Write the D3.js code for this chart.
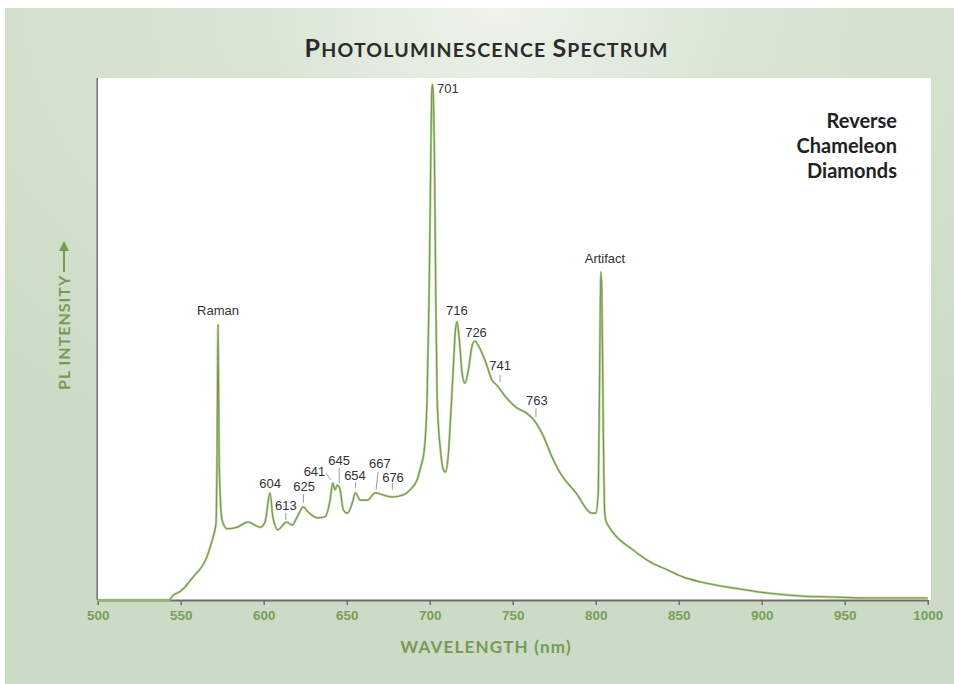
<!DOCTYPE html>
<html>
<head>
<meta charset="utf-8">
<script src="https://cdn.jsdelivr.net/npm/d3@7/dist/d3.min.js"></script>
<style>
  html, body { margin: 0; padding: 0; background: #fff; }
  svg { display: block; }
</style>
</head>
<body>
<svg id="chart" width="954" height="684"></svg>
<script>
// PL spectrum
const wavelength = [500, 543, 545.4, 550, 557.4, 565.8, 569.5, 571.3, 571.9, 572.5,
  573.2, 574.9, 577.9, 584, 590.5, 597.8, 600.8, 603.8, 605.5, 608.6,
  611.6, 613.6, 617.2, 620.2, 623.9, 626.5, 632.2, 637, 640, 641.6,
  643, 644.4, 646, 648, 650.4, 653.4, 655.2, 658.2, 662.4, 667.2,
  672, 677.5, 684, 688.2, 692.4, 694.5, 696.6, 698.4, 699.6, 700.5,
  701.2, 701.6, 702.2, 703, 703.7, 704.5, 706.5, 708.3, 709.5, 711.3,
  712.5, 714.3, 715.5, 716.5, 717.7, 719.5, 721.1, 723.6, 725.4, 727.2,
  729.7, 733.9, 737.5, 740.5, 745.9, 751.9, 758, 762.8, 767.6, 773.7,
  777.9, 788.1, 797.8, 800.2, 801.6, 802.5, 803.1, 803.7, 804.5, 805.4,
  806, 807.8, 810.6, 822.6, 832.9, 843.1, 852.8, 863, 882.9, 903.2,
  923.1, 943, 963.4, 1000];
const intensity = [0, 0, 0.9, 1.7, 4.4, 8.3, 12.1, 14.8, 28, 52.9,
  26, 15.4, 13.7, 14.0, 15.0, 14.0, 15.0, 20.6, 16.0, 13.5,
  14.4, 15.0, 14.4, 16.0, 17.9, 17.0, 15.8, 16.0, 19.2, 22.5,
  21.2, 22.1, 21.2, 17.3, 16.7, 18.7, 20.6, 19.2, 19.2, 20.6,
  20.2, 19.8, 20.2, 21.2, 23.1, 25.5, 28.5, 38.5, 57.7, 80.8,
  97.5, 99.2, 97.1, 80.8, 57.7, 38.5, 28.8, 25.0, 24.6, 28.3,
  34.6, 45.2, 51.9, 53.5, 50.6, 43.7, 41.7, 44.8, 48.7, 49.8,
  48.7, 45.6, 42.3, 41.3, 39.0, 37.1, 36.0, 34.6, 32.1, 27.5,
  24.8, 20.6, 16.7, 16.7, 21.2, 48.1, 63.1, 59.6, 34.6, 17.0,
  15.4, 14.2, 12.9, 9.6, 7.3, 5.8, 4.4, 3.5, 2.3, 1.35,
  0.77, 0.58, 0.38, 0.38];

const xTicks = [500, 550, 600, 650, 700, 750, 800, 850, 900, 950, 1000];

// peak labels: text, wavelength, intensity level of the baseline, anchor
const peakLabels = [
  ["Raman", 572.5, 54.8, "middle"],
  ["604", 603.9, 21.5, "middle"],
  ["613", 613.4, 17.3, "middle"],
  ["625", 624.3, 21.0, "middle"],
  ["641", 630.6, 23.8, "middle"],
  ["645", 645.4, 26.0, "middle"],
  ["654", 655.0, 23.1, "middle"],
  ["667", 670.0, 25.4, "middle"],
  ["676", 677.9, 22.7, "middle"],
  ["701", 704.4, 97.5, "start"],
  ["716", 716.4, 54.8, "middle"],
  ["726", 727.9, 50.6, "middle"],
  ["741", 742.4, 44.2, "middle"],
  ["763", 764.6, 37.5, "middle"],
  ["Artifact", 805.6, 64.8, "middle"]
];
// leader ticks: from [nm, level] to [nm, level]
const leaders = [
  [613.3, 16.8, 613.3, 15.4],
  [623.9, 20.4, 623.9, 18.7],
  [637.5, 24.4, 640.5, 23.1],
  [645.5, 25.4, 645.5, 22.5],
  [655.4, 22.7, 655.4, 21.5],
  [668.9, 24.6, 667.7, 21.2],
  [677.5, 22.5, 677.5, 21.2],
  [742.4, 43.3, 742.4, 41.9],
  [764.0, 36.9, 764.0, 35.2]
];

const legendLines = ["Reverse", "Chameleon", "Diamonds"];

const svg = d3.select("#chart");
const W = 954, H = 684;
const plot = { left: 97.7, right: 927.7, top: 78, bottom: 600 };

const x = d3.scaleLinear().domain([500, 1000]).range([plot.left, plot.right]);
const y = d3.scaleLinear().domain([0, 100]).range([plot.bottom, 80]);

// background
const defs = svg.append("defs");
const grad = defs.append("radialGradient").attr("id", "bg")
  .attr("cx", "52%").attr("cy", "0%").attr("r", "75%")
  .attr("fx", "52%").attr("fy", "0%");
grad.append("stop").attr("offset", "0%").attr("stop-color", "#eef3ec");
grad.append("stop").attr("offset", "35%").attr("stop-color", "#d9e5d4");
grad.append("stop").attr("offset", "100%").attr("stop-color", "#ccdbc5");

svg.append("rect").attr("width", W).attr("height", H).attr("fill", "#fff");
svg.append("rect").attr("x", 5).attr("y", 8).attr("width", W - 5).attr("height", H - 8)
  .attr("fill", "url(#bg)");

// white plot panel
svg.append("rect")
  .attr("x", plot.left).attr("y", plot.top)
  .attr("width", 931 - plot.left).attr("height", plot.bottom - plot.top)
  .attr("fill", "#fff");

// title in small caps
const title = svg.append("text")
  .attr("x", 486).attr("y", 57)
  .attr("text-anchor", "middle")
  .attr("font-family", "Lato, 'Open Sans', sans-serif")
  .attr("font-weight", 700)
  .attr("fill", "#2b2b2b")
  .attr("textLength", 363).attr("lengthAdjust", "spacing");
[["P", 25], ["HOTOLUMINESCENCE ", 19.5], ["S", 25], ["PECTRUM", 19.5]].forEach(([t, s]) => {
  title.append("tspan").attr("font-size", s).text(t);
});

// legend
svg.append("g").selectAll("text")
  .data(legendLines)
  .join("text")
  .attr("x", 897)
  .attr("y", (d, i) => 128 + i * 25)
  .attr("text-anchor", "end")
  .attr("font-family", "Lato, 'Open Sans', sans-serif")
  .attr("font-weight", 700)
  .attr("font-size", 20)
  .attr("fill", "#222")
  .text(d => d);

// y axis line
svg.append("line")
  .attr("x1", plot.left - 0.5).attr("x2", plot.left - 0.5)
  .attr("y1", plot.top).attr("y2", plot.bottom)
  .attr("stroke", "#707370").attr("stroke-width", 1.5);

// x axis
const xAxis = svg.append("g")
  .attr("transform", `translate(0,${plot.bottom})`)
  .call(d3.axisBottom(x).tickValues(xTicks).tickFormat(d3.format("d"))
    .tickSize(5).tickSizeOuter(0).tickPadding(5));
xAxis.select(".domain").attr("stroke", "#6b6e6b").attr("stroke-width", 2);
xAxis.selectAll(".tick line").attr("stroke", "#6b6e6b").attr("stroke-width", 1.5);
xAxis.selectAll(".tick text")
  .attr("font-family", "'Liberation Sans Narrow', 'Arial Narrow', sans-serif")
  .attr("font-weight", 700)
  .attr("font-size", 13.5)
  .attr("fill", "#7c9c5c");

// axis titles
svg.append("text")
  .attr("x", 486).attr("y", 653)
  .attr("text-anchor", "middle")
  .attr("font-family", "Lato, 'Open Sans', sans-serif")
  .attr("font-weight", 700)
  .attr("font-size", 17)
  .attr("letter-spacing", 1.2)
  .attr("fill", "#779a57")
  .text("WAVELENGTH (nm)");

svg.append("text")
  .attr("transform", "translate(70,390) rotate(-90)")
  .attr("font-family", "Lato, 'Open Sans', sans-serif")
  .attr("font-weight", 700)
  .attr("font-size", 16)
  .attr("letter-spacing", 1)
  .attr("fill", "#779a57")
  .text("PL INTENSITY");
// arrow after the y title
svg.append("line")
  .attr("x1", 64).attr("x2", 64).attr("y1", 272).attr("y2", 248)
  .attr("stroke", "#779a57").attr("stroke-width", 2);
svg.append("path")
  .attr("d", "M64,241 L59,251 L69,251 Z")
  .attr("fill", "#779a57");

// spectrum
const pts = wavelength.map((w, i) => [w, intensity[i]]);
const line = d3.line()
  .x(d => x(d[0]))
  .y(d => y(d[1]))
  .curve(d3.curveMonotoneX);

svg.append("path")
  .datum(pts)
  .attr("d", line)
  .attr("fill", "none")
  .attr("stroke", "#b3d68a")
  .attr("stroke-width", 2.4)
  .attr("stroke-linejoin", "round");
svg.append("path")
  .datum(pts)
  .attr("d", line)
  .attr("fill", "none")
  .attr("stroke", "#7f9160")
  .attr("stroke-width", 1.1)
  .attr("stroke-linejoin", "round");

// leaders
svg.append("g").selectAll("line")
  .data(leaders)
  .join("line")
  .attr("x1", d => x(d[0])).attr("y1", d => y(d[1]))
  .attr("x2", d => x(d[2])).attr("y2", d => y(d[3]))
  .attr("stroke", "#999").attr("stroke-width", 1);

// peak labels
svg.append("g").selectAll("text")
  .data(peakLabels)
  .join("text")
  .attr("x", d => x(d[1]))
  .attr("y", d => y(d[2]))
  .attr("text-anchor", d => d[3])
  .attr("font-family", "'Liberation Sans', Arial, sans-serif")
  .attr("font-size", 13)
  .attr("fill", "#333")
  .text(d => d[0]);
</script>
</body>
</html>
